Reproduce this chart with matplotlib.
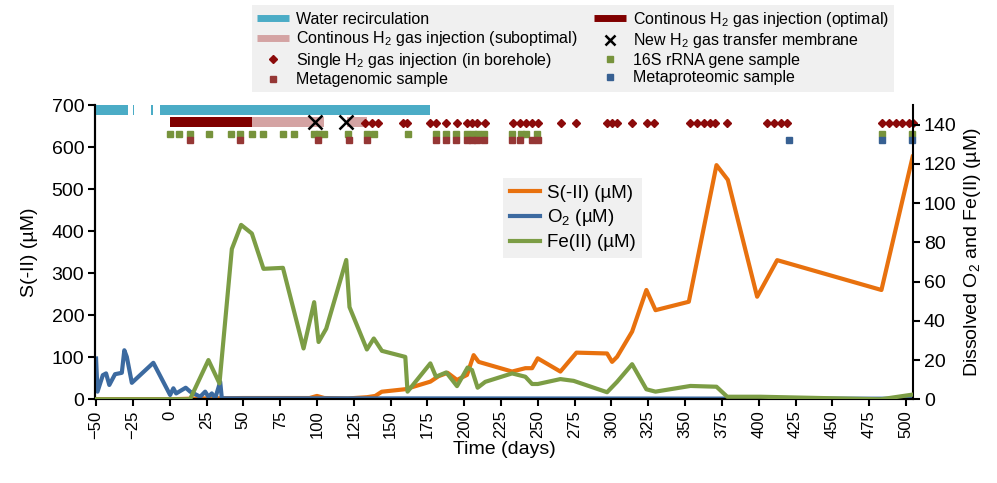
import numpy as np
import matplotlib.pyplot as plt
from matplotlib.lines import Line2D

plt.rcParams['font.family'] = ['Liberation Sans', 'DejaVu Sans']
plt.rcParams['mathtext.fontset'] = 'custom'
plt.rcParams['mathtext.rm'] = 'Liberation Sans'
plt.rcParams['mathtext.it'] = 'Liberation Sans:italic'

# S(-II) in uM (left axis)
s_days = [-50, 0, 20, 50, 95, 100, 105, 121, 134, 139.6, 144, 160, 177, 182.6, 188.7,
          195.1, 201.9, 206.4, 209.8, 232.5, 241.5, 246.1, 249.9, 265.3, 276.2, 297,
          300.4, 303.8, 314, 323.7, 329.9, 352.5, 371.3, 379, 398.9, 412.5, 483.3, 504.5]
s_vals = [0, 0, 2, 3, 3, 8, 3, 2, 5, 8, 18, 24, 42, 55, 63, 46, 58, 105, 89, 66, 74, 74,
          97.5, 66, 111, 109, 89, 101, 161, 260, 212, 232, 557, 522, 244, 331, 260, 577]

# O2 in uM (right axis)
o2_days = [-50, -49, -45.4, -43.2, -41, -37.1, -32.5, -30.8, -29.1, -25.7, -11.1, 0.3,
           2.5, 4.4, 8.2, 10.9, 13.9, 18.4, 20.7, 24.1, 26.3, 28.6, 30.9, 34.3, 35.4,
           48, 504.5]
o2_vals = [20.8, 3.9, 12.3, 13.2, 7.3, 12.8, 13.5, 25, 21.6, 8.4, 18.6, 2.2, 5.6, 3,
           4.7, 5.9, 3.9, 2.2, 1.3, 3.9, 1.3, 3, 0.5, 8.9, 0.5, 0.5, 0.3]

# Fe(II) in uM (right axis)
fe_days = [-50, 13.8, 26.3, 33.8, 42.2, 48.5, 55.8, 63.7, 76.9, 90.9, 98.1, 101.1,
           106.3, 119.9, 122.1, 133.9, 138.6, 144.1, 160, 161.5, 177, 180.8, 187.8,
           195.1, 202.3, 205.3, 209.1, 214.3, 232.5, 241.5, 246.1, 250, 265.3, 274.3,
           297, 303.8, 314, 323.7, 329.9, 353.6, 371.3, 378.6, 401.2, 482.8, 504.5]
fe_vals = [0, 0, 20, 8.1, 76.6, 88.9, 84.5, 66.5, 67, 25.9, 49.5, 29.2, 36, 71, 47,
           25.4, 31, 24.7, 21.6, 3.9, 18.3, 11.5, 13.7, 6.7, 16.2, 14.9, 5.9, 8.9,
           13.2, 11.5, 7.8, 7.8, 10.3, 9.4, 3.6, 8.9, 17.9, 5.1, 3.9, 6.8, 6.4, 1.3,
           1.3, 0, 2.4]

# periods (start, duration) in days
water = [(-50.5, 22.2), (-24.7, 0.8), (-12.6, 1.3), (-6.5, 183.5)]
h2_optimal = [(0, 56)]
h2_subopt = [(56, 49), (120.4, 13.6)]
membrane = [99, 120]

single_h2 = [132.8, 137.3, 141.4, 158.6, 161.3, 177, 181, 187.8, 195.1, 201.9, 205.3,
             208.7, 213.9, 232.9, 237.6, 242, 246.1, 249.9, 265.8, 276, 297, 300.4,
             303.8, 314, 324.2, 328.7, 353.6, 358.2, 362.7, 367.2, 370.6, 378.1, 405.8,
             410.2, 414.8, 419.4, 483.9, 488.4, 492.9, 497.5, 502, 504.5]
rrna_16s = [0, 6.3, 13.7, 26.7, 41.7, 47.9, 56, 63.3, 76.9, 84.3, 98.1, 101.5, 104.9,
            120.9, 134.2, 138.8, 161.9, 181, 187.7, 194.6, 202.1, 205.8, 209.2, 213.5,
            232.7, 238.3, 242.2, 249.7, 483.4, 504]
metagenomic = [13.7, 47.9, 100.7, 121.7, 134, 181, 187.7, 194.6, 202.1, 205.5, 209,
               213.6, 232.7, 238.1, 246, 249.9]
metaproteomic = [420.2, 483.4, 504]

c_s = '#E8710E'
c_o2 = '#3C6AA0'
c_fe = '#7C9D45'
c_water = '#4BACC6'
c_opt = '#800000'
c_sub = '#D4A3A3'
c_single = '#8B0A0A'
c_16s = '#77933C'
c_mg = '#953735'
c_mp = '#376092'

fig = plt.figure(figsize=(9.97, 4.83), dpi=100)
ax = fig.add_axes([0.0956, 0.1733, 0.8198, 0.6093])
ax2 = ax.twinx()

ax.plot(s_days, s_vals, color=c_s, lw=3, zorder=2)
ax2.plot(o2_days, o2_vals, color=c_o2, lw=3, zorder=2)
ax2.plot(fe_days, fe_vals, color=c_fe, lw=3, zorder=3)

# event rows at the top
ax.broken_barh(water, (676, 23), facecolors=c_water, zorder=4)
ax.broken_barh(h2_optimal, (648, 24), facecolors=c_opt, zorder=4)
ax.broken_barh(h2_subopt, (648, 24), facecolors=c_sub, zorder=4)
ax.plot(single_h2, [658] * len(single_h2), ls='none', marker='D', ms=4.2,
        color=c_single, zorder=5, clip_on=False)
ax.plot(membrane, [660] * len(membrane), ls='none', marker='x', ms=10, mew=1.8,
        color='black', zorder=6)
ax.plot(rrna_16s, [631] * len(rrna_16s), ls='none', marker='s', ms=4.4,
        color=c_16s, zorder=5, clip_on=False)
ax.plot(metagenomic, [617] * len(metagenomic), ls='none', marker='s', ms=4.4,
        color=c_mg, zorder=5, clip_on=False)
ax.plot(metaproteomic, [617] * len(metaproteomic), ls='none', marker='s', ms=4.4,
        color=c_mp, zorder=5, clip_on=False)

ax.set_xlim(-50.5, 504.5)
ax.set_ylim(0, 700)
ax2.set_ylim(0, 150)
ax.set_xticks(np.arange(-50, 501, 25))
ax.set_yticks(np.arange(0, 701, 100))
ax2.set_yticks(np.arange(0, 141, 20))
for a in (ax, ax2):
    a.tick_params(direction='out', length=5, width=1.5, labelsize=14, pad=3)
    a.spines['top'].set_visible(False)
    for sp in a.spines.values():
        sp.set_linewidth(1.5)
ax.tick_params(axis='x', labelrotation=90, labelsize=12)
ax.spines['right'].set_visible(False)

ax.set_xlabel('Time (days)', fontsize=14, labelpad=1.5)
ax.set_ylabel('S(-II) (µM)', fontsize=14, labelpad=10)
ax2.set_ylabel('Dissolved O$_2$ and Fe(II) (µM)', fontsize=14, labelpad=4)

# legend for the concentration lines
line_handles = [Line2D([], [], color=c_s, lw=3),
                Line2D([], [], color=c_o2, lw=3),
                Line2D([], [], color=c_fe, lw=3)]
fig.legend(line_handles, ['S(-II) (µM)', 'O$_2$ (µM)', 'Fe(II) (µM)'],
           loc='upper left', bbox_to_anchor=(503 / 997, 1 - 178 / 483),
           fontsize=13.5, frameon=True, fancybox=False, facecolor='#f0f0f0',
           edgecolor='none', framealpha=1, borderaxespad=0, handlelength=1.6,
           handletextpad=0.4, labelspacing=0.3, borderpad=0.35)

# legend for the events
ev_handles = [Line2D([], [], color=c_water, lw=5, solid_capstyle='butt'),
              Line2D([], [], color=c_sub, lw=5, solid_capstyle='butt'),
              Line2D([], [], color=c_single, ls='none', marker='D', ms=4.2),
              Line2D([], [], color=c_mg, ls='none', marker='s', ms=4.4),
              Line2D([], [], color=c_opt, lw=5, solid_capstyle='butt'),
              Line2D([], [], color='black', ls='none', marker='x', ms=7, mew=1.8),
              Line2D([], [], color=c_16s, ls='none', marker='s', ms=4.4),
              Line2D([], [], color=c_mp, ls='none', marker='s', ms=4.4)]
ev_labels = ['Water recirculation',
             'Continous H$_2$ gas injection (suboptimal)',
             'Single H$_2$ gas injection (in borehole)',
             'Metagenomic sample',
             'Continous H$_2$ gas injection (optimal)',
             'New H$_2$ gas transfer membrane',
             '16S rRNA gene sample',
             'Metaproteomic sample']
fig.legend(ev_handles, ev_labels, ncol=2, loc='upper left',
           bbox_to_anchor=(252 / 997, 1 - 5 / 483), fontsize=11.5, frameon=True,
           fancybox=False, facecolor='#f0f0f0', edgecolor='none', framealpha=1,
           borderaxespad=0, handlelength=2.0, handletextpad=0.45, labelspacing=0.16,
           columnspacing=1.0, borderpad=0.3)

fig.savefig('out.png', dpi=100)
